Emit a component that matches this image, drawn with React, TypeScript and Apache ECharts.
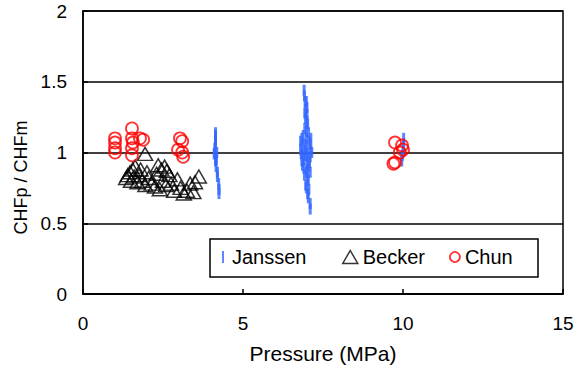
import React, { useEffect, useRef } from "react";
import * as echarts from "echarts";

const xTicks = [0, 5, 10, 15];
const yTicks = [0, 0.5, 1, 1.5, 2];

const janssen: [number, number][] = [
  [4.14, 1.14], [4.14, 1.1], [4.14, 1.06], [4.12, 1.03], [4.18, 1.0], [4.1, 0.99],
  [4.16, 0.97], [4.14, 0.94], [4.16, 0.9], [4.2, 0.86], [4.2, 0.83], [4.24, 0.78],
  [4.25, 0.74], [4.25, 0.71], [4.14, 1.12], [4.14, 1.08], [4.12, 1.0], [4.16, 0.95],
  [6.91, 1.44], [6.92, 1.4], [6.94, 1.36], [6.96, 1.31], [7.0, 1.27], [6.95, 1.24],
  [7.02, 1.2], [6.93, 1.17], [7.05, 1.14], [6.88, 1.12], [6.98, 1.1], [6.8, 1.08],
  [7.1, 1.06], [6.85, 1.04], [6.95, 1.02], [7.15, 1.0], [6.82, 0.99], [7.0, 0.97],
  [6.9, 0.95], [7.08, 0.93], [6.86, 0.91], [7.0, 0.88], [7.1, 0.86], [6.92, 0.84],
  [7.04, 0.8], [6.96, 0.77], [7.06, 0.74], [7.02, 0.71], [7.1, 0.64], [7.1, 0.6],
  [6.84, 1.1], [7.12, 1.1], [6.9, 1.06], [7.06, 1.08], [6.8, 1.02], [7.12, 1.02],
  [6.88, 0.98], [7.1, 0.97], [6.84, 0.94], [7.0, 0.92], [7.04, 1.0], [6.9, 0.89],
  [7.06, 0.9], [6.98, 1.15], [6.98, 1.05], [6.96, 0.98], [7.02, 0.82], [6.98, 0.86],
  [7.0, 1.32], [6.93, 1.28], [6.98, 1.36], [7.04, 0.68], [6.98, 0.75], [7.0, 1.22],
  [10.02, 1.1], [10.02, 1.06], [10.0, 1.02], [9.98, 0.98], [9.96, 0.94],
];

const becker: [number, number][] = [
  [1.94, 0.99], [1.63, 0.9], [1.55, 0.88], [1.47, 0.86], [1.4, 0.84], [1.35, 0.82],
  [1.5, 0.8], [1.6, 0.83], [1.7, 0.79], [1.75, 0.84], [1.85, 0.8], [1.95, 0.77],
  [2.05, 0.82], [2.15, 0.78], [2.25, 0.76], [2.35, 0.91], [2.45, 0.88], [2.55, 0.9],
  [2.62, 0.87], [2.7, 0.84], [2.5, 0.8], [2.4, 0.74], [2.6, 0.77], [2.75, 0.78],
  [2.85, 0.73], [2.95, 0.81], [3.05, 0.75], [3.15, 0.71], [3.25, 0.73], [3.35, 0.78],
  [3.45, 0.72], [3.5, 0.79], [3.62, 0.83], [2.0, 0.86], [1.8, 0.88], [2.3, 0.85],
];

const chun: [number, number][] = [
  [1.0, 1.1], [1.0, 1.07], [1.0, 1.03], [1.0, 1.0],
  [1.53, 1.17], [1.53, 1.1], [1.56, 1.07], [1.53, 1.03], [1.53, 0.98],
  [1.78, 1.1], [1.88, 1.09],
  [3.03, 1.1], [3.1, 1.08], [2.97, 1.02], [3.1, 1.0], [3.13, 0.97],
  [9.75, 1.07], [9.97, 1.05], [9.9, 1.0], [9.75, 0.93], [9.7, 0.92], [10.0, 1.02],
];

const FONT = "'Liberation Sans', Arial, sans-serif";

export default function App() {
  const ref = useRef<HTMLDivElement>(null);
  useEffect(() => {
    if (!ref.current) return;
    const chart = echarts.init(ref.current, undefined, { renderer: "svg" });
    const legendText = { fontSize: 20, color: "#000", fontFamily: FONT };
    chart.setOption({
      animation: false,
      backgroundColor: "#fff",
      textStyle: { fontFamily: FONT },
      grid: {
        left: 83, top: 11, right: 23, bottom: 80,
        show: true, borderColor: "#000", borderWidth: 1.5,
      },
      xAxis: {
        type: "value", min: xTicks[0], max: xTicks[xTicks.length - 1], interval: 5,
        name: "Pressure (MPa)", nameLocation: "middle", nameGap: 49,
        nameTextStyle: { fontSize: 21, color: "#000", fontFamily: FONT },
        axisLine: { lineStyle: { color: "#000", width: 1.5 } },
        axisTick: { inside: true, length: 5, lineStyle: { color: "#000", width: 1.5 } },
        axisLabel: { fontSize: 19, color: "#000", margin: 20, fontFamily: FONT },
        splitLine: { show: false },
      },
      yAxis: {
        type: "value", min: yTicks[0], max: yTicks[yTicks.length - 1], interval: 0.5,
        name: "CHFp / CHFm", nameLocation: "middle", nameGap: 50,
        nameTextStyle: { fontSize: 18, color: "#000", fontFamily: FONT, padding: [0, 50, 0, 0] },
        axisLine: { lineStyle: { color: "#000", width: 1.5 } },
        axisTick: { inside: true, length: 5, lineStyle: { color: "#000", width: 1.5 } },
        axisLabel: { fontSize: 19, color: "#000", margin: 16, fontFamily: FONT },
        splitLine: { show: true, lineStyle: { color: "#000", width: 1.5 } },
      },
      graphic: [
        {
          type: "rect", z: 0,
          shape: { x: 210, y: 239, width: 328, height: 38 },
          style: { fill: "#fff", stroke: "#000", lineWidth: 1.5 },
        },
      ],
      legend: [
        {
          data: [{ name: "Janssen", icon: "path://M0,0L2,0L2,12L0,12Z" }],
          left: 222, top: 247, itemWidth: 8, itemHeight: 12, padding: 0,
          selectedMode: false, textStyle: legendText,
        },
        {
          data: ["Becker"], left: 342, top: 247, itemWidth: 15, itemHeight: 13, padding: 0,
          selectedMode: false, textStyle: legendText,
          itemStyle: { borderWidth: 1.5, borderColor: "#000", color: "transparent" },
        },
        {
          data: ["Chun"], left: 449, top: 247, itemWidth: 10, itemHeight: 10, padding: 0,
          selectedMode: false, textStyle: legendText,
          itemStyle: { borderWidth: 1.8, borderColor: "#ff0000", color: "transparent" },
        },
      ],
      series: [
        {
          name: "Janssen", type: "scatter", data: janssen,
          symbol: "rect", symbolSize: [3, 11],
          itemStyle: { color: "#3366ff" }, z: 3,
        },
        {
          name: "Becker", type: "scatter", data: becker,
          symbol: "triangle", symbolSize: [15, 13],
          itemStyle: { color: "transparent", borderColor: "#000", borderWidth: 1.5 }, z: 2,
        },
        {
          name: "Chun", type: "scatter", data: chun,
          symbol: "circle", symbolSize: 12,
          itemStyle: { color: "transparent", borderColor: "#ff0000", borderWidth: 1.8 }, z: 4,
        },
      ],
    });
    return () => chart.dispose();
  }, []);
  return (
    <div
      ref={ref}
      style={{ position: "fixed", left: 0, top: 0, width: 586, height: 374 }}
    />
  );
}
